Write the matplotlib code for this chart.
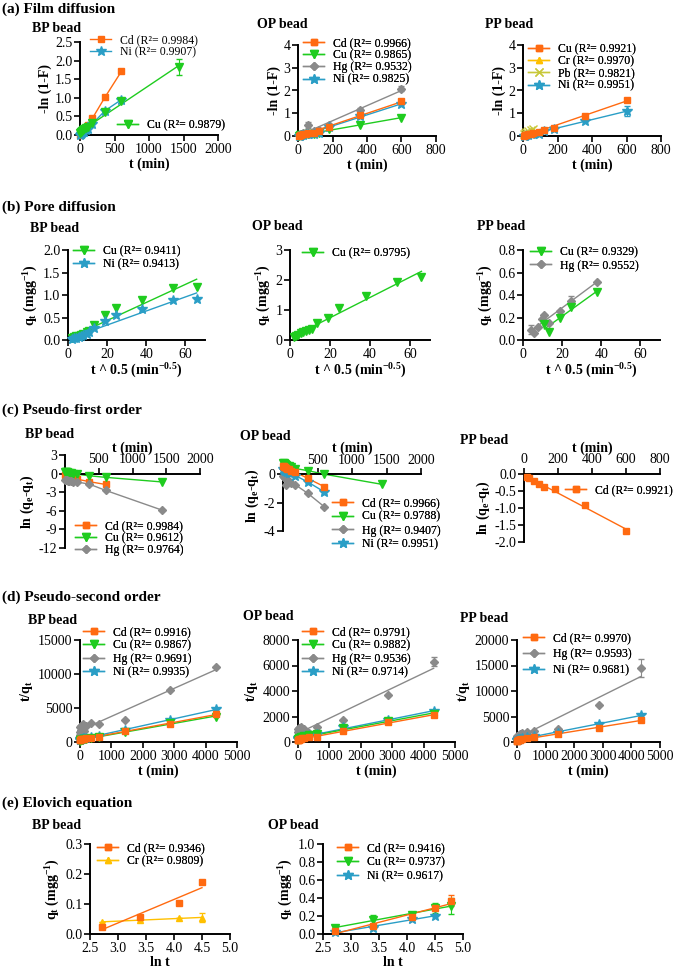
import numpy as np
import matplotlib
matplotlib.use('Agg')
import matplotlib.pyplot as plt
from matplotlib.lines import Line2D

plt.rcParams['font.family'] = ['Liberation Serif', 'DejaVu Serif']
plt.rcParams['mathtext.fontset'] = 'custom'
plt.rcParams['mathtext.rm'] = 'Liberation Serif'
plt.rcParams['mathtext.it'] = 'Liberation Serif:italic'
plt.rcParams['mathtext.bf'] = 'Liberation Serif:bold'
plt.rcParams['axes.unicode_minus'] = False

W, H = 685, 972

# time points (min), sqrt(t) and ln(t)
t_all = [5, 10, 15, 30, 45, 60, 90, 120, 180, 360, 600, 1440, 2880, 4320]
t600 = t_all[:11]
t1440 = t_all[:12]
t60 = t_all[:6]
sqrt_t = [2.24, 3.16, 3.87, 5.48, 6.71, 7.75, 9.49, 10.95, 13.42, 18.97, 24.49, 37.95, 53.67, 65.73]
ln_t = [2.71, 3.40, 4.09, 4.50, 4.79]

# (a) film diffusion  -ln(1-F)
a_bp_cd = [0.01, 0.03, 0.05, 0.08, 0.12, 0.16, 0.22, 0.27, 0.45, 1.01, 1.71]
a_bp_ni = [0.01, 0.02, 0.03, 0.05, 0.07, 0.09, 0.13, 0.17, 0.30, 0.65, 0.95]
a_bp_cu = [0.06, 0.08, 0.09, 0.11, 0.13, 0.15, 0.19, 0.22, 0.33, 0.62, 0.92, 1.82]
a_bp_cu_err = [0, 0, 0, 0, 0, 0, 0, 0, 0, 0, 0.05, 0.22]
a_op_cd = [0.02, 0.03, 0.05, 0.08, 0.10, 0.12, 0.15, 0.20, 0.40, 0.92, 1.52]
a_op_cd_err = [0, 0, 0, 0, 0, 0, 0, 0, 0, 0.06, 0.10]
a_op_cu = [0.02, 0.03, 0.04, 0.05, 0.07, 0.08, 0.10, 0.12, 0.30, 0.50, 0.80]
a_op_hg = [0.03, 0.06, 0.08, 0.12, 0.15, 0.48, 0.20, 0.25, 0.50, 1.15, 2.08]
a_op_hg_err = [0, 0, 0, 0, 0, 0.15, 0, 0, 0, 0.08, 0.10]
a_op_ni = [0.01, 0.02, 0.03, 0.05, 0.07, 0.08, 0.10, 0.15, 0.38, 0.88, 1.42]
a_pp_cu = [0.02, 0.04, 0.05, 0.08, 0.10, 0.13, 0.18, 0.25, 0.35, 0.87, 1.60]
a_pp_cr = [0.04, 0.08, 0.10, 0.13, 0.16, 0.18]
a_pp_pb = [0.10, 0.15, 0.18, 0.22, 0.25, 0.30]
a_pp_ni = [0.01, 0.02, 0.03, 0.05, 0.07, 0.08, 0.10, 0.20, 0.30, 0.65, 1.10]
a_pp_ni_err = [0, 0, 0, 0, 0, 0, 0, 0, 0, 0, 0.20]

# (b) pore diffusion  qt vs t^0.5
b_bp_cu = [0.04, 0.06, 0.08, 0.10, 0.12, 0.14, 0.18, 0.20, 0.33, 0.55, 0.72, 0.90, 1.15, 1.17]
b_bp_ni = [0.02, 0.04, 0.05, 0.07, 0.09, 0.11, 0.14, 0.17, 0.27, 0.42, 0.55, 0.68, 0.88, 0.92]
b_op_cu = [0.10, 0.13, 0.18, 0.22, 0.27, 0.30, 0.33, 0.38, 0.58, 0.75, 1.07, 1.47, 1.95, 2.10]
b_pp_cu_x = [10.95, 13.42, 18.97, 24.49, 37.95]
b_pp_cu = [0.14, 0.07, 0.20, 0.29, 0.43]
b_pp_hg_x = [3.87, 5.48, 7.75, 9.49, 10.95, 13.42, 18.97, 24.49, 37.95]
b_pp_hg = [0.09, 0.06, 0.12, 0.19, 0.22, 0.15, 0.26, 0.35, 0.52]
b_pp_hg_err = [0.04, 0, 0, 0, 0, 0, 0, 0.04, 0]

# (c) pseudo-first order  ln(qe-qt)
c_bp_cd = [-0.20, -0.25, -0.30, -0.35, -0.45, -0.50, -0.60, -0.70, -0.90, -1.30, -1.75]
c_bp_cu = [0.30, 0.28, 0.25, 0.20, 0.15, 0.10, 0.05, 0.00, -0.10, -0.35, -0.60, -1.35]
c_bp_hg = [-1.00, -1.05, -1.05, -1.10, -1.15, -1.20, -1.25, -1.30, -1.35, -1.70, -2.70, -5.90]
c_op_cd = [0.60, 0.55, 0.52, 0.48, 0.45, 0.40, 0.35, 0.25, 0.15, -0.30, -0.88]
c_op_cu = [0.80, 0.78, 0.75, 0.70, 0.65, 0.60, 0.55, 0.50, 0.40, 0.25, 0.00, -0.72]
c_op_hg = [-0.10, -0.15, -0.20, -0.30, -0.75, -0.40, -0.50, -0.60, -0.75, -1.35, -2.30]
c_op_ni = [0.35, 0.32, 0.30, 0.25, 0.20, 0.15, 0.10, 0.05, -0.10, -0.55, -1.25]
c_op_ni_err = [0, 0, 0, 0, 0, 0, 0, 0, 0, 0.08, 0.15]
c_pp_t = [15, 30, 60, 90, 120, 180, 360, 600]
c_pp_cd = [-0.10, -0.12, -0.20, -0.28, -0.37, -0.45, -0.92, -1.67]

# (d) pseudo-second order  t/qt
d_bp_cd = [250, 300, 330, 380, 400, 420, 450, 480, 520, 600, 740, 1550, 2700, 4100]
d_bp_cu = [200, 230, 250, 300, 330, 350, 380, 420, 480, 580, 750, 1500, 2800, 3700]
d_bp_hg = [1500, 2200, 1000, 1800, 2400, 2000, 2600, 1600, 2300, 2800, 2600, 3300, 7600, 11100]
d_bp_ni = [300, 350, 380, 420, 450, 480, 520, 560, 620, 750, 950, 1700, 3300, 4800]
d_op_cd = [120, 130, 150, 180, 200, 220, 250, 280, 320, 380, 420, 860, 1560, 2080]
d_op_cu = [150, 200, 230, 260, 300, 330, 370, 400, 450, 520, 600, 1100, 1650, 2200]
d_op_hg = [500, 800, 1000, 600, 1100, 900, 1200, 800, 1000, 700, 1200, 1700, 3700, 6300]
d_op_hg_err = [0, 0, 0, 0, 0, 0, 0, 0, 0, 0, 0, 0, 0, 350]
d_op_ni = [200, 250, 280, 300, 330, 360, 400, 430, 480, 550, 650, 1150, 1750, 2400]
d_pp_cd = [150, 200, 250, 300, 350, 400, 450, 500, 600, 700, 900, 1500, 2800, 4300]
d_pp_hg = [600, 900, 1200, 800, 1000, 1400, 1200, 1500, 1800, 2000, 2200, 2600, 7300, 14500]
d_pp_hg_err = [0, 0, 0, 0, 0, 0, 0, 0, 0, 0, 0, 0, 0, 1800]
d_pp_ni = [300, 350, 400, 450, 500, 550, 600, 650, 750, 900, 1100, 1800, 3500, 5300]

# (e) Elovich  qt vs ln t
e_bp_cd = [0.025, 0.057, 0.105, 0.172]
e_bp_cd_err = [0, 0, 0, 0.006]
e_bp_cr = [0.040, 0.047, 0.052, 0.055]
e_bp_cr_err = [0, 0, 0, 0.015]
e_op_cd = [0.03, 0.09, 0.19, 0.29, 0.37]
e_op_cd_err = [0, 0, 0, 0, 0.06]
e_op_cu = [0.07, 0.16, 0.21, 0.29, 0.31]
e_op_cu_err = [0, 0.05, 0, 0.06, 0.09]
e_op_ni = [0.02, 0.07, 0.17, 0.20]

ORANGE = '#FF6A10'
GREEN = '#1FCC1F'
GRAY = '#8A8A8A'
CYAN = '#2A9EC6'
YELLOW = '#FFC000'
OLIVE = '#C8C83A'
# style per metal; "Cu*" is the orange-square Cu of the PP film-diffusion panel
STY = {
    'Cd': (ORANGE, 's', 4.5),
    'Cu': (GREEN, 'v', 5.5),
    'Cu*': (ORANGE, 's', 4.5),
    'Hg': (GRAY, 'D', 3.8),
    'Ni': (CYAN, '*', 7),
    'Cr': (YELLOW, '^', 5),
    'Pb': (OLIVE, 'x', 5.5),
}

fig = plt.figure(figsize=(W / 100, H / 100), dpi=100)


def rect(l, r, t, b):
    return [l / W, 1 - b / H, (r - l) / W, (b - t) / H]


def new_ax(box, xlim, ylim, xticks, yticks, xlabel, ylabel, top=False):
    ax = fig.add_axes(rect(*box))
    ax.set_xlim(xlim)
    ax.set_ylim(ylim)
    ax.set_xticks(xticks)
    ax.set_yticks(yticks)
    ax.spines['right'].set_visible(False)
    if top:
        ax.spines['bottom'].set_visible(False)
        ax.spines['top'].set_position(('data', 0))
        ax.xaxis.tick_top()
        ax.xaxis.set_label_position('top')
    else:
        ax.spines['top'].set_visible(False)
    for s in ax.spines.values():
        s.set_linewidth(1.4)
    ax.tick_params(direction='out', length=4, width=1.2, labelsize=10, pad=1.5)
    ax.set_xlabel(xlabel, fontsize=10, fontweight='bold', labelpad=1)
    ax.set_ylabel(ylabel, fontsize=10, fontweight='bold', labelpad=2)
    return ax


def series(ax, x, y, el, mode, err=None):
    c, m, ms = STY[el]
    x = np.asarray(x, float)
    y = np.asarray(y, float)
    if mode == 'fit':
        p = np.polyfit(x, y, 1)
        xs = np.array([x.min(), x.max()])
        ax.plot(xs, np.polyval(p, xs), color=c, lw=1.0, zorder=2)
    else:
        ax.plot(x, y, color=c, lw=1.0, zorder=2)
    if err is not None:
        ax.errorbar(x, y, yerr=err, fmt='none', ecolor=c, elinewidth=0.8, capsize=2.5, zorder=2)
    ax.plot(x, y, ls='none', marker=m, ms=ms, color=c, mec=c, zorder=3, clip_on=False)


def legend(ax, entries, x, y, sp=0.13):
    handles = []
    labels = []
    for el, r2 in entries:
        c, m, ms = STY[el]
        handles.append(Line2D([], [], color=c, marker=m, ms=ms, lw=1.0))
        labels.append(el.rstrip('*') + ' (R\u00b2= ' + r2 + ')')
    leg = ax.legend(handles, labels, loc='upper left', bbox_to_anchor=(x / W, 1 - (y - 6) / H),
                    bbox_transform=fig.transFigure, frameon=False, fontsize=8.5,
                    handlelength=1.8, handletextpad=0.7, labelspacing=sp,
                    borderpad=0, borderaxespad=0, numpoints=1)
    ax.add_artist(leg)
    return leg


def ftext(x, y, s, size):
    fig.text(x / W, 1 - y / H, s, fontsize=size, fontweight='bold', ha='left', va='center')


# row titles and panel names
ftext(2, 9, '(a) Film diffusion', 11)
ftext(2, 207, '(b) Pore diffusion', 11)
ftext(2, 410, '(c) Pseudo-first order', 11)
ftext(2, 597, '(d) Pseudo-second order', 11)
ftext(2, 803, '(e) Elovich equation', 11)
for x, y, s in [(32, 28, 'BP bead'), (257, 25, 'OP bead'), (485, 25, 'PP bead'),
                (30, 228, 'BP bead'), (252, 227, 'OP bead'), (477, 227, 'PP bead'),
                (25, 435, 'BP bead'), (240, 437, 'OP bead'), (460, 440, 'PP bead'),
                (28, 620, 'BP bead'), (243, 617, 'OP bead'), (460, 618, 'PP bead'),
                (32, 825, 'BP bead'), (268, 825, 'OP bead')]:
    ftext(x, y, s, 10)

# ---- (a) film diffusion
ylab_a = '-ln (1-F)'
ax = new_ax((80, 218, 42, 135), (0, 2000), (0, 2.5), range(0, 2001, 500),
            np.arange(0, 2.51, 0.5), 't (min)', ylab_a)
series(ax, t600, a_bp_cd, 'Cd', 'line')
series(ax, t600, a_bp_ni, 'Ni', 'line')
series(ax, t1440, a_bp_cu, 'Cu', 'fit', a_bp_cu_err)
legend(ax, [('Cd', '0.9984'), ('Ni', '0.9907')], 90, 40, 0.02)
legend(ax, [('Cu', '0.9879')], 117, 125)

ax = new_ax((298, 436, 45, 136), (0, 800), (0, 4), range(0, 801, 200), range(0, 5),
            't (min)', ylab_a)
series(ax, t600, a_op_cu, 'Cu', 'fit')
series(ax, t600, a_op_hg, 'Hg', 'fit', a_op_hg_err)
series(ax, t600, a_op_ni, 'Ni', 'fit')
series(ax, t600, a_op_cd, 'Cd', 'fit', a_op_cd_err)
legend(ax, [('Cd', '0.9966'), ('Cu', '0.9865'), ('Hg', '0.9532'), ('Ni', '0.9825')], 303, 43, 0.02)

ax = new_ax((523, 661, 45, 136), (0, 800), (0, 4), range(0, 801, 200), range(0, 5),
            't (min)', ylab_a)
series(ax, t600, a_pp_ni, 'Ni', 'fit', a_pp_ni_err)
series(ax, t60, a_pp_cr, 'Cr', 'line')
series(ax, t60, a_pp_pb, 'Pb', 'line')
series(ax, t600, a_pp_cu, 'Cu*', 'fit')
legend(ax, [('Cu*', '0.9921'), ('Cr', '0.9970'), ('Pb', '0.9821'), ('Ni', '0.9951')], 528, 49, 0.02)

# ---- (b) pore diffusion
ylab_b = r'q$_\mathbf{t}$ (mgg$^\mathbf{-1}$)'
xlab_b = r't ^ 0.5 (min$^\mathbf{-0.5}$)'
ax = new_ax((68, 205, 250, 340), (0, 70), (0, 2), [0, 20, 40, 60], np.arange(0, 2.01, 0.5),
            xlab_b, ylab_b)
series(ax, sqrt_t, b_bp_cu, 'Cu', 'fit')
series(ax, sqrt_t, b_bp_ni, 'Ni', 'fit')
legend(ax, [('Cu', '0.9411'), ('Ni', '0.9413')], 73, 251)

ax = new_ax((290, 430, 250, 340), (0, 70), (0, 3), [0, 20, 40, 60], range(0, 4),
            xlab_b, ylab_b)
series(ax, sqrt_t, b_op_cu, 'Cu', 'fit')
legend(ax, [('Cu', '0.9795')], 302, 253)

ax = new_ax((523, 660, 250, 340), (0, 70), (0, 0.8), [0, 20, 40, 60], np.arange(0, 0.81, 0.2),
            xlab_b, ylab_b)
series(ax, b_pp_hg_x, b_pp_hg, 'Hg', 'fit', b_pp_hg_err)
series(ax, b_pp_cu_x, b_pp_cu, 'Cu', 'fit')
legend(ax, [('Cu', '0.9329'), ('Hg', '0.9552')], 530, 252)

# ---- (c) pseudo-first order
ylab_c = r'ln (q$_\mathbf{e}$-q$_\mathbf{t}$)'
ax = new_ax((65, 200, 455, 548), (0, 2000), (-12, 3), [500, 1000, 1500, 2000],
            range(-12, 4, 3), 't (min)', ylab_c, top=True)
series(ax, t600, c_bp_cd, 'Cd', 'line')
series(ax, t1440, c_bp_cu, 'Cu', 'line')
series(ax, t1440, c_bp_hg, 'Hg', 'line')
legend(ax, [('Cd', '0.9984'), ('Cu', '0.9612'), ('Hg', '0.9764')], 75, 526, 0.0)

ax = new_ax((283, 421, 460, 531), (0, 2000), (-4, 1), [500, 1000, 1500, 2000],
            [-4, -2, 0], 't (min)', ylab_c, top=True)
series(ax, t600, c_op_hg, 'Hg', 'line')
series(ax, t600, c_op_ni, 'Ni', 'line', c_op_ni_err)
series(ax, t1440, c_op_cu, 'Cu', 'line')
series(ax, t600, c_op_cd, 'Cd', 'line')
legend(ax, [('Cd', '0.9966'), ('Cu', '0.9788'), ('Hg', '0.9407'), ('Ni', '0.9951')], 332, 503, 0.15)

ax = new_ax((524, 660, 474, 542), (0, 800), (-2, 0), range(0, 801, 200),
            np.arange(-2, 0.01, 0.5), 't (min)', ylab_c, top=True)
series(ax, c_pp_t, c_pp_cd, 'Cd', 'fit')
legend(ax, [('Cd', '0.9921')], 565, 490)

# ---- (d) pseudo-second order
ylab_d = r't/q$_\mathbf{t}$'
ax = new_ax((80, 237, 640, 742), (0, 5000), (0, 15000), range(0, 5001, 1000),
            range(0, 15001, 5000), 't (min)', ylab_d)
series(ax, t_all, d_bp_hg, 'Hg', 'fit')
series(ax, t_all, d_bp_ni, 'Ni', 'fit')
series(ax, t_all, d_bp_cu, 'Cu', 'fit')
series(ax, t_all, d_bp_cd, 'Cd', 'fit')
legend(ax, [('Cd', '0.9916'), ('Cu', '0.9867'), ('Hg', '0.9691'), ('Ni', '0.9935')], 83, 632)

ax = new_ax((298, 455, 640, 742), (0, 5000), (0, 8000), range(0, 5001, 1000),
            range(0, 8001, 2000), 't (min)', ylab_d)
series(ax, t_all, d_op_hg, 'Hg', 'fit', d_op_hg_err)
series(ax, t_all, d_op_ni, 'Ni', 'fit')
series(ax, t_all, d_op_cu, 'Cu', 'fit')
series(ax, t_all, d_op_cd, 'Cd', 'fit')
legend(ax, [('Cd', '0.9791'), ('Cu', '0.9882'), ('Hg', '0.9536'), ('Ni', '0.9714')], 302, 632)

ax = new_ax((517, 660, 640, 742), (0, 5000), (0, 20000), range(0, 5001, 1000),
            range(0, 20001, 5000), 't (min)', ylab_d)
series(ax, t_all, d_pp_hg, 'Hg', 'fit', d_pp_hg_err)
series(ax, t_all, d_pp_ni, 'Ni', 'fit')
series(ax, t_all, d_pp_cd, 'Cd', 'fit')
legend(ax, [('Cd', '0.9970'), ('Hg', '0.9593'), ('Ni', '0.9681')], 523, 638, 0.34)

# ---- (e) Elovich
xe = np.arange(2.5, 5.01, 0.5)
ax = new_ax((90, 230, 844, 934), (2.5, 5.0), (0, 0.3), xe, np.arange(0, 0.31, 0.1),
            'ln t', ylab_b)
series(ax, ln_t[:4], e_bp_cr, 'Cr', 'fit', e_bp_cr_err)
series(ax, ln_t[:4], e_bp_cd, 'Cd', 'fit', e_bp_cd_err)
legend(ax, [('Cd', '0.9346'), ('Cr', '0.9809')], 97, 848, 0.1)

ax = new_ax((323, 463, 844, 934), (2.5, 5.0), (0, 1.0), xe, np.arange(0, 1.01, 0.2),
            'ln t', ylab_b)
series(ax, ln_t[:4], e_op_ni, 'Ni', 'fit')
series(ax, ln_t, e_op_cu, 'Cu', 'fit', e_op_cu_err)
series(ax, ln_t, e_op_cd, 'Cd', 'fit', e_op_cd_err)
legend(ax, [('Cd', '0.9416'), ('Cu', '0.9737'), ('Ni', '0.9617')], 337, 848, 0.17)

fig.savefig('out.png', dpi=100)
